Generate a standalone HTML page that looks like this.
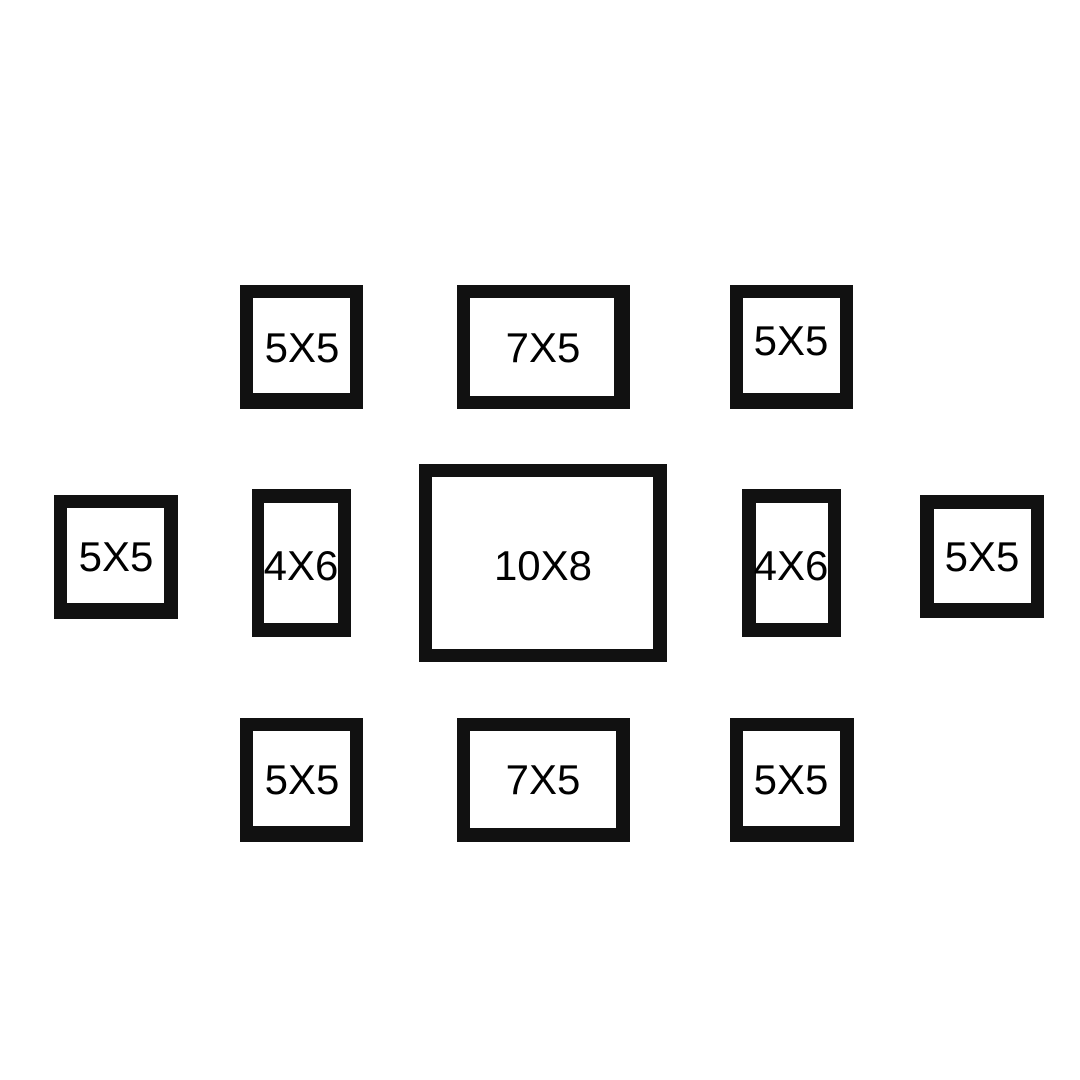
<!DOCTYPE html>
<html><head><style>
body{margin:0;width:1080px;height:1080px;background:#fff;position:relative;overflow:hidden;font-family:"Liberation Sans",Arial,sans-serif}
.f{position:absolute;background:#111}
.i{position:absolute;background:#fff}
.t{position:absolute;width:200px;margin-left:-100px;text-align:center;font-size:42px;line-height:42px;margin-top:-21px;color:#000}
</style></head><body>
<div class="f" style="left:240px;top:285px;width:123px;height:124px"><div class="i" style="left:13px;top:13px;width:97px;height:95px"></div></div>
<div class="f" style="left:457px;top:285px;width:173px;height:124px"><div class="i" style="left:13px;top:13px;width:144px;height:98px"></div></div>
<div class="f" style="left:730px;top:285px;width:123px;height:124px"><div class="i" style="left:13px;top:13px;width:97px;height:95px"></div></div>
<div class="f" style="left:54px;top:495px;width:124px;height:124px"><div class="i" style="left:13px;top:13px;width:97px;height:95px"></div></div>
<div class="f" style="left:252px;top:489px;width:99px;height:148px"><div class="i" style="left:12px;top:14px;width:74px;height:120px"></div></div>
<div class="f" style="left:419px;top:464px;width:248px;height:198px"><div class="i" style="left:13px;top:13px;width:221px;height:172px"></div></div>
<div class="f" style="left:742px;top:489px;width:99px;height:148px"><div class="i" style="left:14px;top:14px;width:72px;height:120px"></div></div>
<div class="f" style="left:920px;top:495px;width:124px;height:123px"><div class="i" style="left:14px;top:14px;width:97px;height:94px"></div></div>
<div class="f" style="left:240px;top:718px;width:123px;height:124px"><div class="i" style="left:13px;top:13px;width:97px;height:95px"></div></div>
<div class="f" style="left:457px;top:718px;width:173px;height:124px"><div class="i" style="left:13px;top:13px;width:146px;height:97px"></div></div>
<div class="f" style="left:730px;top:718px;width:124px;height:124px"><div class="i" style="left:13px;top:13px;width:97px;height:95px"></div></div>

<div class="t" style="left:302px;top:348px">5X5</div>
<div class="t" style="left:543px;top:348px">7X5</div>
<div class="t" style="left:791px;top:341px">5X5</div>
<div class="t" style="left:116px;top:557px">5X5</div>
<div class="t" style="left:301px;top:566px">4X6</div>
<div class="t" style="left:543px;top:566px">10X8</div>
<div class="t" style="left:791px;top:566px">4X6</div>
<div class="t" style="left:982px;top:557px">5X5</div>
<div class="t" style="left:302px;top:780px">5X5</div>
<div class="t" style="left:543px;top:780px">7X5</div>
<div class="t" style="left:791px;top:780px">5X5</div>
</body></html>
